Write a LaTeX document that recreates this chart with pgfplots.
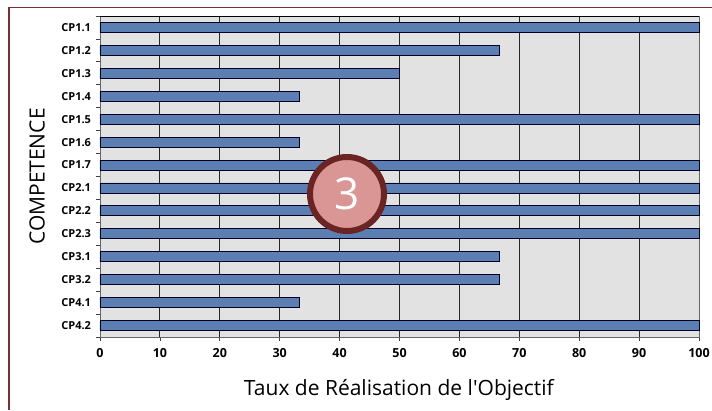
\documentclass[border=0pt]{standalone}
\usepackage{pgfplots}
\pgfplotsset{compat=1.18}
\usepackage{fontspec}
\setmainfont{Open Sans}
\newfontfamily\lab{Open Sans}
\definecolor{barblue}{HTML}{5B7FB3}
\definecolor{plotgray}{HTML}{E2E2E2}
\definecolor{framered}{HTML}{7A3030}
\definecolor{badgefill}{HTML}{D99694}
\definecolor{badgeline}{HTML}{6B2424}
\begin{document}
\begin{tikzpicture}[x=1pt,y=1pt]
\useasboundingbox (0,0) rectangle (712,410);
\fill[white] (0,0) rectangle (712,410);
\draw[framered,line width=1.6pt] (9,0) -- (9,402.5) -- (712,402.5);
\begin{axis}[
  at={(100pt,73pt)}, anchor=south west,
  scale only axis, width=599pt, height=321pt,
  xbar, bar width=10pt,
  xmin=0, xmax=100,
  ymin=-0.5, ymax=13.5, y dir=reverse,
  axis background/.style={fill=plotgray},
  axis line style={draw=black!60,line width=0.9pt},
  xtick={0,10,...,100},
  ytick={0,...,13},
  yticklabels={CP1.1,CP1.2,CP1.3,CP1.4,CP1.5,CP1.6,CP1.7,CP2.1,CP2.2,CP2.3,CP3.1,CP3.2,CP4.1,CP4.2},
  minor ytick={-0.5,0.5,...,13.5},
  xtick pos=bottom, ytick pos=left,
  tick align=outside,
  major tick length=4pt, minor tick length=4pt,
  major y tick style={draw=none},
  minor y tick style={draw=black!75,line width=0.8pt},
  major x tick style={draw=black!75,line width=0.8pt},
  xmajorgrids,
  grid style={draw=black!85,line width=0.9pt},
  tick label style={font=\bfseries},
  yticklabel style={font=\fontsize{11}{13}\selectfont\bfseries,xshift=-1.5pt},
  xticklabel style={font=\fontsize{12.5}{14}\selectfont\bfseries,yshift=-4pt},
  /pgf/number format/assume math mode=true,
  xlabel={\lab Taux de R\'ealisation de l'Objectif},
  ylabel={COMPETENCE},
  xlabel style={font=\fontsize{21}{24}\selectfont,at={(axis description cs:0.499,-0.121)},anchor=north},
  ylabel style={font=\fontsize{21}{24}\selectfont,at={(axis description cs:-0.086,0.5)},anchor=south},
  clip=false,
]
\addplot[xbar,fill=barblue,draw=black!85!blue,line width=0.8pt] coordinates {
 (100,0) (66.67,1) (50,2) (33.33,3) (100,4) (33.33,5) (100,6)
 (100,7) (100,8) (100,9) (66.67,10) (66.67,11) (33.33,12) (100,13)};
\draw[black,line width=0.9pt] (axis cs:0,-0.5) -- (axis cs:100,-0.5);
\end{axis}
\node[circle,fill=badgefill,draw=badgeline,line width=6pt,minimum size=74pt,inner sep=0pt,text=white,font=\fontsize{44}{46}\selectfont] at (347,216) {3};
\end{tikzpicture}
\end{document}
